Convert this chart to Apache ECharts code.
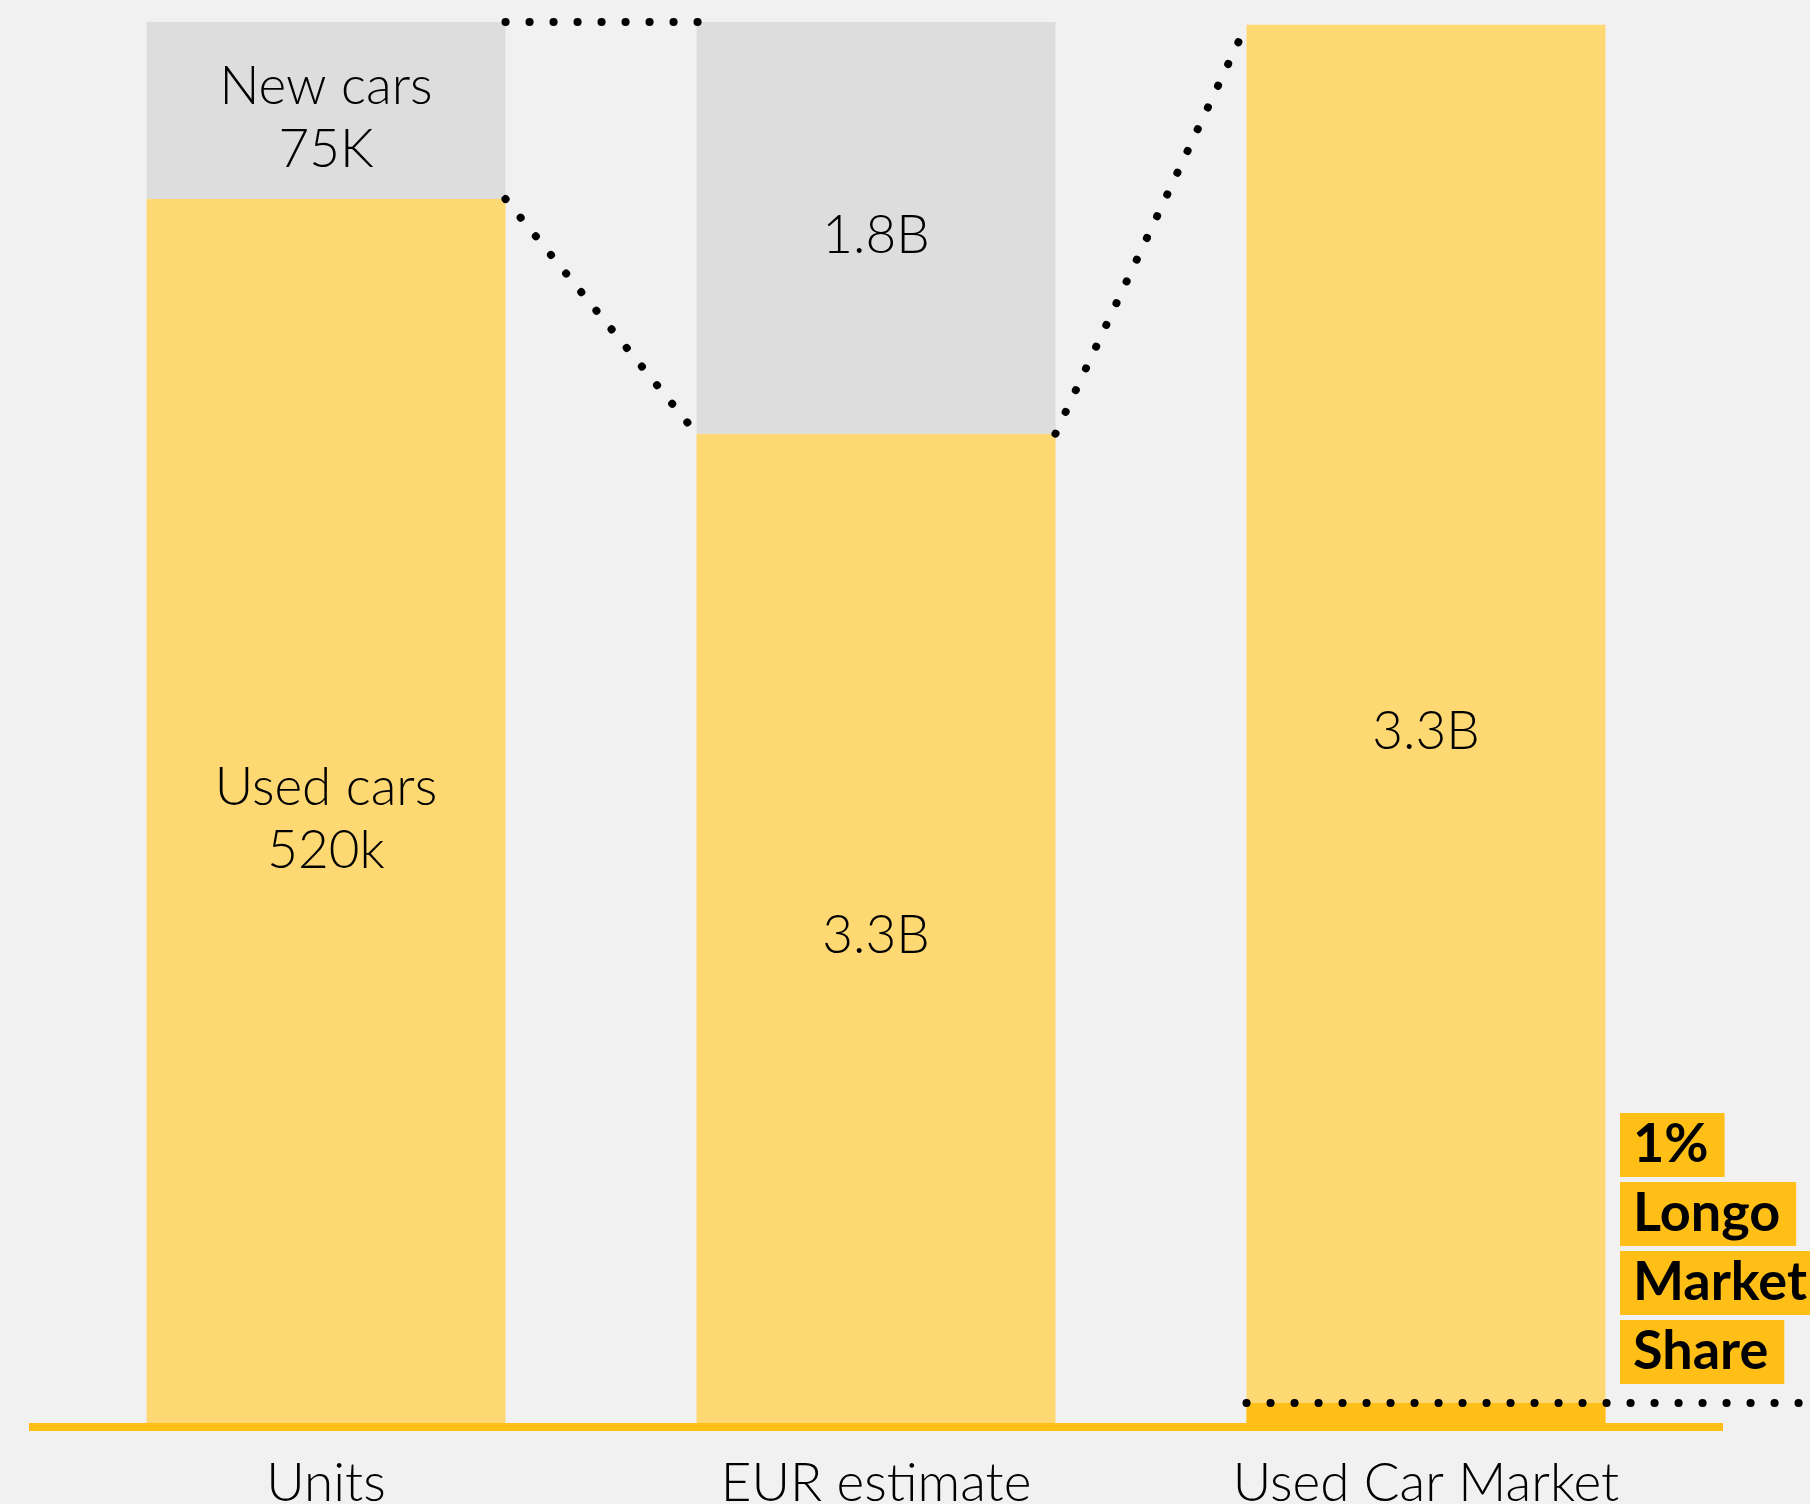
<!DOCTYPE html>
<html>
<head>
<meta charset="utf-8">
<script src="https://cdn.jsdelivr.net/npm/echarts@6/dist/echarts.min.js"></script>
<style>
  html, body { margin: 0; padding: 0; background: #f1f1f1; }
  #chart { width: 1810px; height: 1504px; }
</style>
</head>
<body>
<div id="chart"></div>
<script>
var categories = ['Units', 'EUR estimate', 'Used Car Market'];
// bar heights as % of the tallest column
var usedShare = [87.4, 70.7, 99.8];
var newShare = [12.6, 29.3, 0];
var longoShare = [null, null, 1.7];
var usedLabels = ['Used cars\n520k', '3.3B', '3.3B'];
var newLabels = ['New cars\n75K', '1.8B', ''];
var shareBadge = ['1%', 'Longo', 'Market', 'Share'];

var chart = echarts.init(document.getElementById('chart'));

var W = 1810;
var gridLeft = 51;
var barW = 359;
var band = 550;
var half = barW / band / 2;
// hidden value axis for the connectors, reaching the right edge of the canvas
var xMax = -0.5 + (W - gridLeft) / band;
var tops = usedShare.map(function (v, i) { return v + newShare[i]; });

// dotted connectors, built from the bar values
var connectors = [
    [[0 + half, tops[0]], [1 - half + 0.008, tops[1]]],
    [[0 + half, usedShare[0]], [1 - half, usedShare[1]]],
    [[1 + half, usedShare[1]], [2 - half, tops[2]]],
    [[2 - half, longoShare[2]], [xMax, longoShare[2]]]
];

var font = 'Lato';
var labelStyle = {
    show: true,
    position: 'inside',
    color: '#000',
    fontFamily: font,
    fontWeight: 300,
    fontSize: 53,
    lineHeight: 63
};

var series = [{
    name: 'Used',
    type: 'bar',
    stack: 'total',
    barWidth: barW,
    itemStyle: { color: '#fed872' },
    label: Object.assign({}, labelStyle, {
        offset: [0, 6],
        formatter: function (p) { return usedLabels[p.dataIndex]; }
    }),
    data: usedShare
}, {
    name: 'New',
    type: 'bar',
    stack: 'total',
    barWidth: barW,
    itemStyle: { color: '#dddddd' },
    label: Object.assign({}, labelStyle, {
        offset: [0, 8],
        formatter: function (p) { return newLabels[p.dataIndex]; }
    }),
    data: newShare
}, {
    name: 'Longo',
    type: 'bar',
    barWidth: barW,
    barGap: '-100%',
    itemStyle: { color: '#ffbf17' },
    data: longoShare
}];

connectors.forEach(function (pts) {
    series.push({
        type: 'line',
        xAxisIndex: 1,
        yAxisIndex: 2,
        symbol: 'none',
        clip: false,
        silent: true,
        z: 5,
        lineStyle: { color: '#000', width: 8, type: [0.1, 23.9], cap: 'round' },
        data: pts
    });
});

var option = {
    backgroundColor: '#f1f1f1',
    animation: false,
    grid: [
        { left: gridLeft, right: 109, top: 22, bottom: 77, outerBoundsMode: 'none' },
        { left: 29, right: 87, top: 22, bottom: 77, outerBoundsMode: 'none' },
        { left: gridLeft, right: 0, top: 22, bottom: 77, outerBoundsMode: 'none' }
    ],
    xAxis: [{
        type: 'category',
        gridIndex: 0,
        data: categories,
        axisLine: { show: false },
        axisTick: { show: false },
        axisLabel: {
            margin: 25,
            color: '#000',
            fontFamily: font,
            fontWeight: 300,
            fontSize: 53,
            lineHeight: 63
        }
    }, {
        type: 'value',
        gridIndex: 2,
        min: -0.5,
        max: xMax,
        show: false
    }, {
        type: 'category',
        gridIndex: 1,
        data: categories,
        z: 10,
        axisLine: { lineStyle: { color: '#ffbf17', width: 8, cap: 'butt' } },
        axisTick: { show: false },
        axisLabel: { show: false }
    }],
    yAxis: [
        { type: 'value', gridIndex: 0, min: 0, max: 100, show: false },
        { type: 'value', gridIndex: 1, min: 0, max: 100, show: false },
        { type: 'value', gridIndex: 2, min: 0, max: 100, show: false }
    ],
    graphic: shareBadge.map(function (t, i) {
        return {
            type: 'text',
            left: 1620,
            top: 1113 + i * 69,
            z: 20,
            style: {
                text: t,
                fill: '#000',
                font: '700 54px Lato',
                lineHeight: 64,
                backgroundColor: '#ffbf17',
                padding: [0, 16, 0, 13]
            }
        };
    }),
    series: series
};

chart.setOption(option);
</script>
</body>
</html>
